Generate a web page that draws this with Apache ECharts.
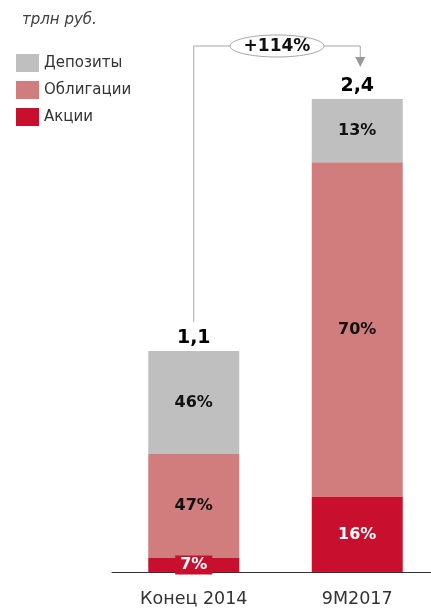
<!DOCTYPE html>
<html>
<head>
<meta charset="utf-8">
<script src="https://cdn.jsdelivr.net/npm/echarts@6/dist/echarts.min.js"></script>
<style>html,body{margin:0;padding:0;background:#fff}#c{width:431px;height:610px}</style>
</head>
<body>
<div id="c"></div>
<script>
// ---- data ----
var categories = ['Конец 2014', '9M2017'];
var seriesNames = ['Депозиты', 'Облигации', 'Акции'];
var stocks = [0.07, 0.373];        // Акции, трлн руб.
var bonds = [0.518, 1.668];        // Облигации
var deposits = [0.512, 0.314];     // Депозиты
var totals = [1.1, 2.355];
var stockLabels = ['7%', '16%'];
var bondLabels = ['47%', '70%'];
var depositLabels = ['46%', '13%'];
var totalLabels = ['1,1', '2,4'];
var growthLabel = '+114%';
var unitLabel = 'трлн руб.';

var FONT = 'DejaVu Sans, Verdana, sans-serif';
var chart = echarts.init(document.getElementById('c'), null, {renderer: 'canvas'});

function inside(labels, color) {
  return {
    show: true, position: 'inside', color: color, fontFamily: FONT,
    fontWeight: 'bold', fontSize: 16,
    formatter: function (p) { return labels[p.dataIndex]; }
  };
}

var option = {
  animation: false,
  backgroundColor: '#fff',
  title: {
    text: unitLabel, left: 22, top: 13, padding: 0,
    textStyle: {fontFamily: FONT, fontStyle: 'italic', fontWeight: 'normal', fontSize: 15, color: '#404040'}
  },
  legend: {
    orient: 'vertical', left: 16, top: 54, padding: 0, itemWidth: 23, itemHeight: 18, itemGap: 9,
    icon: 'rect', data: seriesNames,
    textStyle: {fontFamily: FONT, fontSize: 15, color: '#333'}
  },
  grid: {left: 112, width: 327, top: 70, height: 502, outerBoundsMode: 'none', containLabel: false},
  xAxis: {
    type: 'category', data: categories,
    axisLine: {lineStyle: {color: '#333', width: 1}},
    axisTick: {show: false},
    axisLabel: {fontFamily: FONT, fontSize: 17.5, color: '#333', margin: 18}
  },
  yAxis: {type: 'value', min: 0, max: 2.5, show: false, splitLine: {show: false}},
  series: [
    {name: 'Акции', type: 'bar', stack: 's', barWidth: 91, data: stocks,
      itemStyle: {color: '#c8102e'},
      label: Object.assign(inside(stockLabels, '#fff'), {backgroundColor: '#c8102e', padding: [2, 5, 1, 5]})},
    {name: 'Облигации', type: 'bar', stack: 's', barWidth: 91, data: bonds,
      itemStyle: {color: '#d17d7e'}, label: inside(bondLabels, '#111')},
    {name: 'Депозиты', type: 'bar', stack: 's', barWidth: 91, data: deposits,
      itemStyle: {color: '#bfbfbf'}, label: inside(depositLabels, '#111')},
    {name: 'total', type: 'scatter', data: totals, symbolSize: 0, silent: true,
      itemStyle: {color: '#111', opacity: 1},
      label: {show: true, position: 'top', distance: 4, color: '#000', opacity: 1, fontFamily: FONT,
        fontWeight: 'bold', fontSize: 19,
        formatter: function (p) { return totalLabels[p.dataIndex]; }}}
  ]
};
chart.setOption(option);

// annotation anchored to bar tops
var p1 = chart.convertToPixel({gridIndex: 0}, [0, totals[0]]);
var p2 = chart.convertToPixel({gridIndex: 0}, [1, totals[1]]);
var yLine = 46;
var ex1 = 230, ex2 = 324;
var ecx = (ex1 + ex2) / 2;
var lc = '#a6a6a6';
chart.setOption({
  graphic: [
    {type: 'polyline', silent: true, shape: {points: [[p1[0], p1[1] - 29], [p1[0], yLine], [ex1, yLine]]},
      style: {stroke: lc, lineWidth: 1, fill: null}},
    {type: 'polyline', silent: true, shape: {points: [[ex2, yLine], [p2[0] + 3, yLine], [p2[0] + 3, p2[1] - 42]]},
      style: {stroke: lc, lineWidth: 1, fill: null}},
    {type: 'polygon', silent: true, shape: {points: [[p2[0] - 2, p2[1] - 42], [p2[0] + 8, p2[1] - 42], [p2[0] + 3, p2[1] - 32]]},
      style: {fill: '#999'}},
    {type: 'ellipse', silent: true, shape: {cx: ecx, cy: yLine, rx: (ex2 - ex1) / 2, ry: 11},
      style: {fill: '#fff', stroke: lc, lineWidth: 1}},
    {type: 'text', silent: true, x: ecx, y: yLine + 1,
      style: {text: growthLabel, align: 'center', verticalAlign: 'middle', fontFamily: FONT,
        fontWeight: 'bold', fontSize: 17, fill: '#111'}}
  ]
});
</script>
</body>
</html>
